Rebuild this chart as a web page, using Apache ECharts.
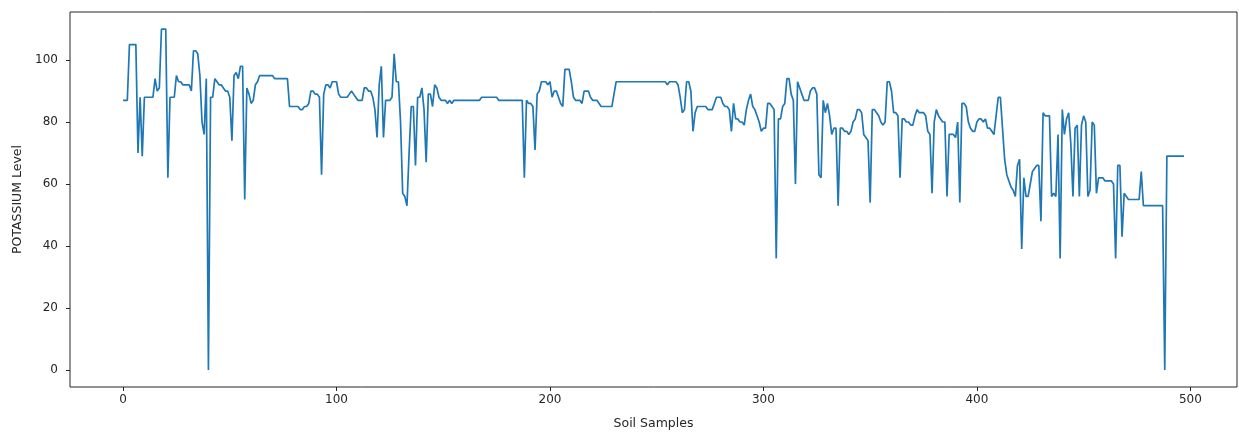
<!DOCTYPE html>
<html>
<head>
<meta charset="utf-8">
<title>Potassium level</title>
<script src="https://cdn.jsdelivr.net/npm/echarts@6/dist/echarts.min.js"></script>
<style>
  html, body { margin: 0; padding: 0; background: #fff; }
  #chart { width: 1239px; height: 435px; }
</style>
</head>
<body>
<div id="chart"></div>
<script>
// potassium level of each soil sample (sample index = position in the list)
var potassium = [
  87,87,87,105,105,105,105,70,88,69,
  88,88,88,88,88,94,90,91,110,110,
  110,62,88,88,88,95,93,93,92,92,
  92,92,90,103,103,102,95,80,76,94,
  0,88,88,94,93,92,
  92,91,90,90,88,74,95,96,94,98,
  98,55,91,89,86,87,92,93,95,95,
  95,95,95,95,95,94,94,94,94,94,
  94,94,85,85,85,85,85,84,84,85,
  85,86,90,90,89,89,88,63,89,92,
  92,91,
  93,93,93,89,88,88,88,88,89,90,
  89,88,87,87,87,91,91,90,90,88,
  84,75,92,98,75,87,87,87,88,102,
  93,93,80,57,56,53,70,85,85,66,
  88,88,91,84,67,89,89,85,92,91,
  88,
  87,87,87,86,87,86,
  87,87,87,87,87,87,87,87,87,87,87,87,87,
  88,88,88,88,88,88,88,88,
  87,87,87,87,87,87,87,87,87,87,87,87,
  62,87,86,86,85,71,89,90,93,93,93,92,
  93,88,90,90,88,86,85,97,97,97,
  93,88,87,87,87,86,90,90,90,88,
  87,87,87,86,
  85,85,85,85,85,85,
  89,93,93,93,93,93,93,93,93,93,93,
  93,93,93,93,93,93,93,93,93,93,93,
  93,93,93,92,93,93,93,93,
  92,88,83,84,93,93,90,77,83,85,
  85,85,85,85,84,84,84,86,88,88,
  88,86,85,85,84,77,86,81,81,80,
  80,79,84,87,89,85,84,82,80,77,
  78,78,86,
  86,85,84,36,81,81,85,86,94,94,
  89,87,60,93,91,89,87,87,87,90,
  91,91,89,63,62,87,83,86,82,76,
  78,78,53,78,78,77,77,76,77,80,
  81,84,84,83,76,75,74,54,84,84,
  83,82,
  80,79,80,93,93,90,83,83,82,62,
  81,81,80,80,79,79,82,84,83,83,
  83,82,77,76,57,80,84,82,81,80,
  80,56,76,76,76,75,80,54,86,86,
  85,80,78,77,77,80,81,81,80,81,
  78,
  78,77,76,82,88,88,78,68,63,61,
  59,58,56,66,68,39,62,56,56,60,
  64,65,66,66,48,83,82,82,82,56,
  57,56,76,36,84,76,81,83,73,56,
  78,79,56,79,82,80,56,58,80,79,
  57,62,
  62,62,61,61,61,61,60,36,66,66,
  43,57,56,55,55,55,55,55,55,64,
  53,53,53,53,53,53,53,53,53,53,
  0,69,69,69,69,69,69,69,69,69
];
var xTicks = [0, 100, 200, 300, 400, 500];
var yTicks = [0, 20, 40, 60, 80, 100];

var points = potassium.map(function (v, i) { return [i, v]; });

var chart = echarts.init(document.getElementById('chart'));
var font = 'DejaVu Sans';
var ink = '#262626';
var option = {
  animation: false,
  backgroundColor: '#fff',
  grid: {
    left: 70, right: 2, top: 12, bottom: 43,
    show: true, borderColor: ink, borderWidth: 1
  },
  xAxis: {
    type: 'value',
    min: -24.85, max: 521.85,
    name: 'Soil Samples',
    nameLocation: 'middle',
    nameGap: 30,
    nameTextStyle: { fontFamily: font, fontSize: 12.5, color: ink },
    axisLine: { show: false, onZero: false },
    splitLine: { show: false },
    axisTick: { show: true, inside: false, length: 4, customValues: xTicks,
                lineStyle: { color: ink } },
    axisLabel: { customValues: xTicks, margin: 7, fontFamily: font,
                 fontSize: 12, color: ink }
  },
  yAxis: {
    type: 'value',
    min: -5.5, max: 115.5,
    name: 'POTASSIUM Level',
    nameLocation: 'middle',
    nameGap: 45,
    nameTextStyle: { fontFamily: font, fontSize: 12.5, color: ink },
    axisLine: { show: false, onZero: false },
    splitLine: { show: false },
    axisTick: { show: true, inside: false, length: 4, customValues: yTicks,
                lineStyle: { color: ink } },
    axisLabel: { customValues: yTicks, margin: 12, fontFamily: font,
                 fontSize: 12, color: ink }
  },
  series: [{
    type: 'line',
    data: points,
    showSymbol: false,
    lineStyle: { color: '#1f77b4', width: 1.7 }
  }]
};
chart.setOption(option);
</script>
</body>
</html>
